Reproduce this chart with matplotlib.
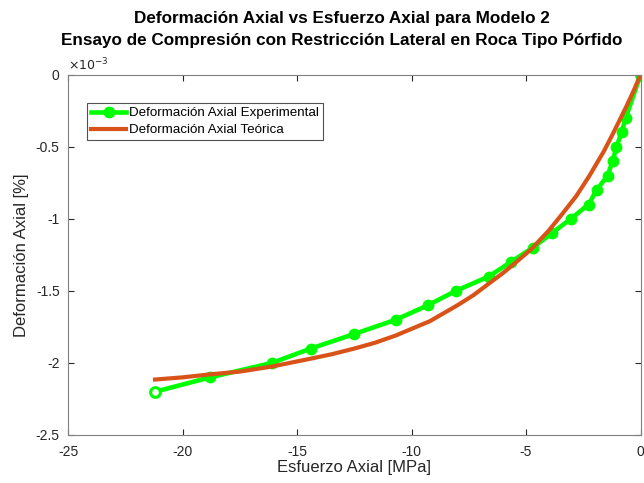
import numpy as np
import matplotlib.pyplot as plt

plt.rcParams['font.family'] = ['Liberation Sans', 'DejaVu Sans']
plt.rcParams['axes.unicode_minus'] = False

# experimental data (strain in 1e-3)
esf_exp = [0, -0.65, -0.83, -1.05, -1.22, -1.44, -1.92, -2.27, -3.05, -3.88,
           -4.71, -5.67, -6.63, -8.07, -9.29, -10.69, -12.52, -14.4, -16.1,
           -18.8, -21.2]
def_exp = [0, -0.3, -0.4, -0.5, -0.6, -0.7, -0.8, -0.9, -1.0, -1.1,
           -1.2, -1.3, -1.4, -1.5, -1.6, -1.7, -1.8, -1.9, -2.0, -2.1, -2.2]

# theoretical curve
esf_teo = [0, -0.3, -0.62, -0.9, -1.21, -1.6, -2.23, -2.8, -3.39, -4.0,
           -4.77, -5.43, -6.0, -6.63, -7.3, -8.0, -9.2, -10.7, -11.6,
           -12.5, -13.5, -14.4, -16.1, -17.5, -18.85, -20.0, -21.2]
def_teo = [0, -0.11, -0.22, -0.31, -0.41, -0.53, -0.70, -0.84, -0.96, -1.08,
           -1.21, -1.30, -1.375, -1.45, -1.53, -1.6, -1.71, -1.81, -1.86,
           -1.90, -1.94, -1.97, -2.025, -2.06, -2.08, -2.10, -2.115]

xticks = [-25, -20, -15, -10, -5, 0]
yticks = [0, -0.5, -1, -1.5, -2, -2.5]

fig = plt.figure(figsize=(6.44, 4.83), dpi=100)
ax = fig.add_axes([0.1056, 0.0994, 0.889, 0.7456])

green = '#00ff00'
ax.plot(esf_exp, def_exp, '-o', color=green, lw=3.3, ms=7, mfc=green,
        mew=1.5, markevery=list(range(1, len(esf_exp) - 1)),
        label='Deformación Axial Experimental')
# end points appear as open circles
ax.plot([esf_exp[0], esf_exp[-1]], [def_exp[0], def_exp[-1]], 'o',
        color=green, ms=7, mfc='white', mew=2.2)
ax.plot(esf_teo, def_teo, '-', color='#D95319', lw=3,
        label='Deformación Axial Teórica')

ax.set_xlim(-25, 0)
ax.set_ylim(-2.5, 0)
ax.set_xticks(xticks)
ax.set_yticks(yticks)
ax.set_xticklabels([str(t) for t in xticks])
ax.set_yticklabels(['0', '-0.5', '-1', '-1.5', '-2', '-2.5'])

grey = '#262626'
for s in ax.spines.values():
    s.set_color('#808080')
    s.set_linewidth(0.8)
ax.tick_params(direction='in', length=4, colors=grey, labelsize=10,
               top=True, right=True, width=0.8)
ax.tick_params(axis='x', pad=7)
ax.tick_params(axis='y', pad=6)

ax.text(0.0, 1.004, r'$\times 10^{-3}$', transform=ax.transAxes,
        fontsize=9, color=grey, ha='left', va='bottom')

ax.set_xlabel('Esfuerzo Axial [MPa]', fontsize=12, color=grey, labelpad=1)
ax.set_ylabel('Deformación Axial [%]', fontsize=12, color=grey, labelpad=5)
ax.set_title('Deformación Axial vs Esfuerzo Axial para Modelo 2\n'
             'Ensayo de Compresión con Restricción Lateral en Roca Tipo Pórfido',
             fontsize=12.3, fontweight='bold', color='black', pad=21.5,
             linespacing=1.6, x=0.478)

leg = ax.legend(loc='upper left', bbox_to_anchor=(0.033, 0.922), fontsize=9.6,
                frameon=True, fancybox=False, edgecolor='#262626',
                handlelength=2.65, handletextpad=0.2, borderpad=0.3,
                labelspacing=0.35, borderaxespad=0)
leg.get_frame().set_linewidth(0.8)

fig.savefig('out.png', dpi=100)
